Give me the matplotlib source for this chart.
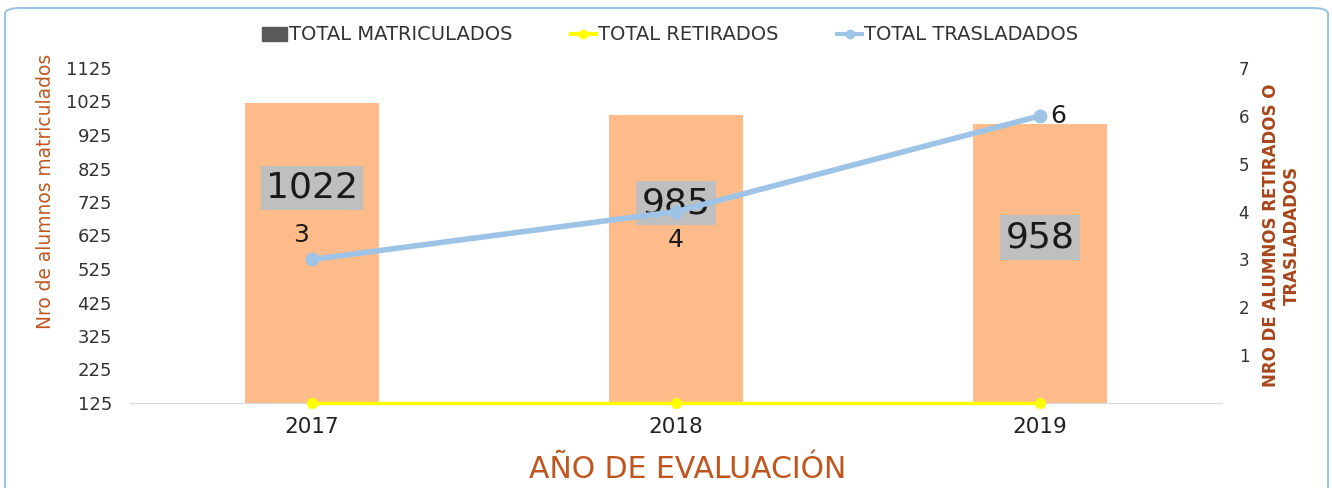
import matplotlib
matplotlib.use('Agg')
import matplotlib.pyplot as plt
from matplotlib.patches import FancyBboxPatch
from matplotlib.lines import Line2D
from matplotlib.patches import Patch

# data
years = ['2017', '2018', '2019']
matriculados = [1022, 985, 958]
retirados = [0, 0, 0]
trasladados = [3, 4, 6]
# where the bar value labels sit (left axis units)
mat_label_y = [767, 722, 620]

bar_color = '#FFBC8A'
brown = '#C0561E'

fig = plt.figure(figsize=(13.32, 4.88), dpi=100)
ax = fig.add_axes([130 / 1332, 1 - 403 / 488, 1092 / 1332, 335 / 488])
ax2 = ax.twinx()

x = list(range(len(years)))
ax.bar(x, matriculados, width=0.37, color=bar_color, bottom=0, zorder=1)
ax.set_ylim(125, 1125)
ax.set_xlim(-0.5, 2.5)
ax.set_yticks(range(125, 1126, 100))
ax.set_xticks(x)
ax.set_xticklabels(years, fontsize=15.5)
ax.tick_params(axis='y', length=0, labelsize=13, pad=13, colors='#333333')
ax.tick_params(axis='x', length=0, pad=10, colors='#222222')
for s in ['top', 'left', 'right']:
    ax.spines[s].set_visible(False)
ax.spines['bottom'].set_color('#D9D9D9')

ax2.plot(x, retirados, color='#FFFF00', lw=2.5, marker='o', ms=7, zorder=3, clip_on=False)
ax2.plot(x, trasladados, color='#9DC3E6', lw=4, marker='o', ms=9, zorder=3,
         solid_capstyle='round')
ax2.set_ylim(0, 7)
ax2.set_yticks(range(1, 8))
ax2.tick_params(axis='y', length=0, labelsize=12, pad=12, colors='#333333')
for s in ['top', 'left', 'right', 'bottom']:
    ax2.spines[s].set_visible(False)

# bar value labels with grey boxes
for xi, v, ly in zip(x, matriculados, mat_label_y):
    ax.text(xi, ly, str(v), ha='center', va='center', fontsize=26, color='#1A1A1A',
            zorder=5, bbox=dict(boxstyle='square,pad=0.15', fc='#BFBFBF', ec='none'))

# line value labels
ax2.text(x[0] - 0.03, trasladados[0] + 0.5, str(trasladados[0]), ha='center', va='center',
         fontsize=18, color='#1A1A1A', zorder=6)
ax2.text(x[1], trasladados[1] - 0.6, str(trasladados[1]), ha='center', va='center',
         fontsize=18, color='#1A1A1A', zorder=6)
ax2.text(x[2] + 0.05, trasladados[2], str(trasladados[2]), ha='center', va='center',
         fontsize=18, color='#1A1A1A', zorder=6)

ax.set_ylabel('Nro de alumnos matriculados', color=brown, fontsize=13.4)
ax.yaxis.set_label_coords(-0.069, 0.633)
ax2.set_ylabel('NRO DE ALUMNOS RETIRADOS O\nTRASLADADOS', color='#A8461A', fontsize=12,
               fontweight='bold')
ax2.yaxis.set_label_coords(1.037, 0.5)
ax.set_xlabel('AÑO DE EVALUACIÓN', color=brown, fontsize=21.5)
ax.xaxis.set_label_coords(0.511, -0.155)

handles = [Patch(color='#595959'),
           Line2D([0], [0], color='#FFFF00', lw=3, marker='o', ms=6),
           Line2D([0], [0], color='#9DC3E6', lw=3, marker='o', ms=6)]
fig.legend(handles, ['TOTAL MATRICULADOS', 'TOTAL RETIRADOS', 'TOTAL TRASLADADOS'],
           loc='center', bbox_to_anchor=(670 / 1332, 1 - 35 / 488), ncol=3, frameon=False,
           fontsize=14, handlelength=1.3, handletextpad=0.1, columnspacing=3.0,
           labelcolor='#333333')

border = FancyBboxPatch((5 / 1332, -0.05), 1323 / 1332, 1 - 8 / 488 + 0.05,
                        boxstyle='round,pad=0,rounding_size=0.012', transform=fig.transFigure,
                        fc='none', ec='#9DC3E6', lw=1.5)
fig.patches.append(border)

fig.savefig('out.png', dpi=100)
